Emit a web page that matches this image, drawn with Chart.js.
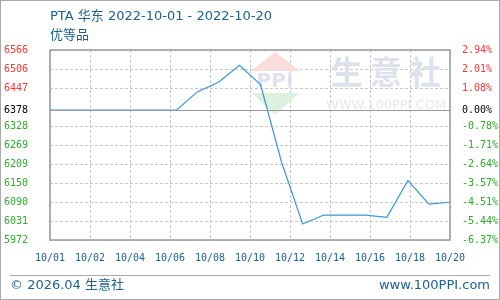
<!DOCTYPE html>
<html>
<head>
<meta charset="utf-8">
<script src="https://cdn.jsdelivr.net/npm/chart.js@4/dist/chart.umd.min.js"></script>
<style>
  html, body { margin: 0; padding: 0; background: #fff; }
  #wrap { width: 500px; height: 300px; position: relative; }
</style>
</head>
<body>
<div id="wrap"><canvas id="chart" width="500" height="300"></canvas></div>
<script>
// ── Data ──────────────────────────────────────────────────────────────────
const TITLE    = 'PTA 华东 2022-10-01 - 2022-10-20';
const SUBTITLE = '优等品';

const days = [
  '10/01', '10/02', '10/03', '10/04', '10/05', '10/06', '10/07', '10/08', '10/09', '10/10',
  '10/11', '10/12', '10/13', '10/14', '10/15', '10/16', '10/17', '10/18', '10/19', '10/20',
];
const prices = [
  6378, 6378, 6378, 6378, 6378, 6378, 6378, 6435, 6465, 6518,
  6458, 6215, 6022, 6050, 6050, 6050, 6043, 6158, 6084, 6090,
];

const xTickLabels = ['10/01', '10/02', '10/04', '10/06', '10/08', '10/10', '10/12', '10/14', '10/16', '10/18', '10/20'];

const BASE = 6378;
const yTickValues = [5972, 6031, 6090, 6150, 6209, 6269, 6328, 6378, 6447, 6506, 6566];
const leftLabels  = ['5972', '6031', '6090', '6150', '6209', '6269', '6328', '6378', '6447', '6506', '6566'];
const rightLabels = ['-6.37%', '-5.44%', '-4.51%', '-3.57%', '-2.64%', '-1.71%', '-0.78%', '0.00%', '1.08%', '2.01%', '2.94%'];

// ── Styles ────────────────────────────────────────────────────────────────
const MONO   = "'DejaVu Sans Mono', monospace";
const SANS   = "'DejaVu Sans', 'Noto Sans CJK SC', sans-serif";
const CJK    = "'Noto Sans CJK SC', sans-serif";
const BLUE   = '#1f6192';
const RED    = '#ff3333';
const GREEN  = '#2eaa2e';
const GRID   = '#c8c8c8';
const FRAME  = '#999999';

const tickColor = (ctx) => {
  const v = yTickValues[ctx.index];
  return v > BASE ? RED : v < BASE ? GREEN : '#000000';
};

const setTicks = (scale) => {
  scale.ticks = yTickValues.map(v => ({ value: v }));
};

// Watermark, frame, titles and footer
const decorations = {
  id: 'decorations',
  beforeDatasetsDraw(chart) {
    const { ctx } = chart;
    ctx.save();
    // logo roof
    ctx.fillStyle = '#f9dcdc';
    ctx.beginPath();
    ctx.moveTo(275, 52); ctx.lineTo(300, 71); ctx.lineTo(251, 71); ctx.closePath();
    ctx.fill();
    ctx.fillStyle = '#dfe3ef';
    ctx.font = `bold 20px ${SANS}`;
    ctx.textAlign = 'center';
    ctx.textBaseline = 'middle';
    ctx.fillText('PPI', 275, 82);
    // logo base
    ctx.fillStyle = '#dcf1de';
    ctx.beginPath();
    ctx.moveTo(252, 93); ctx.lineTo(299, 93); ctx.lineTo(275, 115); ctx.closePath();
    ctx.fill();
    // brand text
    ctx.fillStyle = '#dde1ec';
    ctx.font = `bold 32px ${CJK}`;
    ctx.fillText('生 意 社', 386, 72);
    ctx.fillStyle = '#e8e8e8';
    ctx.font = `13px ${SANS}`;
    ctx.fillText('WWW.100PPI.COM', 386, 106);
    ctx.restore();
  },
  afterDatasetsDraw(chart) {
    const { ctx, chartArea: a } = chart;
    const y = chart.scales.y;
    ctx.save();
    ctx.strokeStyle = FRAME;
    ctx.lineWidth = 1;
    const by = Math.round(y.getPixelForValue(BASE)) + 0.5;
    ctx.beginPath();
    ctx.moveTo(a.left, by); ctx.lineTo(a.right, by);
    ctx.stroke();
    ctx.lineWidth = 1.5;
    ctx.strokeRect(a.left, a.top, a.right - a.left, a.bottom - a.top);
    ctx.restore();
  },
  afterDraw(chart) {
    const { ctx } = chart;
    ctx.save();
    ctx.fillStyle = BLUE;
    ctx.textBaseline = 'middle';
    ctx.textAlign = 'left';
    ctx.font = `13px ${SANS}`;
    ctx.fillText(TITLE, 50, 17);
    ctx.fillText(SUBTITLE, 50, 36);
    // footer
    ctx.strokeStyle = '#aaaaaa';
    ctx.lineWidth = 1;
    ctx.beginPath();
    ctx.moveTo(10, 275.5); ctx.lineTo(490, 275.5);
    ctx.stroke();
    ctx.font = `13px ${SANS}`;
    ctx.fillText('© 2026.04 生意社', 10, 286);
    ctx.textAlign = 'right';
    ctx.fillText('www.100PPI.com', 490, 286);
    // outer frame
    ctx.strokeStyle = '#aaaaaa';
    ctx.strokeRect(0.5, 0.5, 499, 299);
    ctx.restore();
  },
};

new Chart(document.getElementById('chart'), {
  type: 'line',
  data: {
    labels: days,
    datasets: [{
      data: prices,
      borderColor: '#3a98d8',
      borderWidth: 1.2,
      pointRadius: 0,
      tension: 0,
      fill: false,
      xAxisID: 'x',
      yAxisID: 'y',
    }],
  },
  options: {
    responsive: false,
    animation: false,
    layout: { padding: { top: 50, left: 0, right: 0, bottom: 0 } },
    plugins: { legend: { display: false }, tooltip: { enabled: false } },
    scales: {
      x: { type: 'category', display: false, offset: false },
      x2: {
        type: 'category',
        labels: xTickLabels,
        position: 'bottom',
        offset: false,
        afterFit: (s) => { s.height = 60; },
        grid: { color: GRID, drawTicks: false },
        border: { display: false, dash: [3, 2] },
        ticks: {
          color: BLUE,
          font: { family: MONO, size: 10 },
          padding: 12,
          maxRotation: 0,
          autoSkip: false,
        },
      },
      y: {
        position: 'left',
        min: 5972,
        max: 6566,
        afterBuildTicks: setTicks,
        afterFit: (s) => { s.width = 50; },
        grid: { color: GRID, drawTicks: false },
        border: { display: false, dash: [3, 2] },
        ticks: {
          color: tickColor,
          font: { family: MONO, size: 10 },
          padding: 22,
          callback: (v, i) => leftLabels[i],
        },
      },
      y2: {
        position: 'right',
        min: 5972,
        max: 6566,
        afterBuildTicks: setTicks,
        afterFit: (s) => { s.width = 50; },
        grid: { display: false },
        border: { display: false },
        ticks: {
          color: tickColor,
          font: { family: MONO, size: 10 },
          padding: 4,
          callback: (v, i) => rightLabels[i],
        },
      },
    },
  },
  plugins: [decorations],
});
</script>
</body>
</html>
